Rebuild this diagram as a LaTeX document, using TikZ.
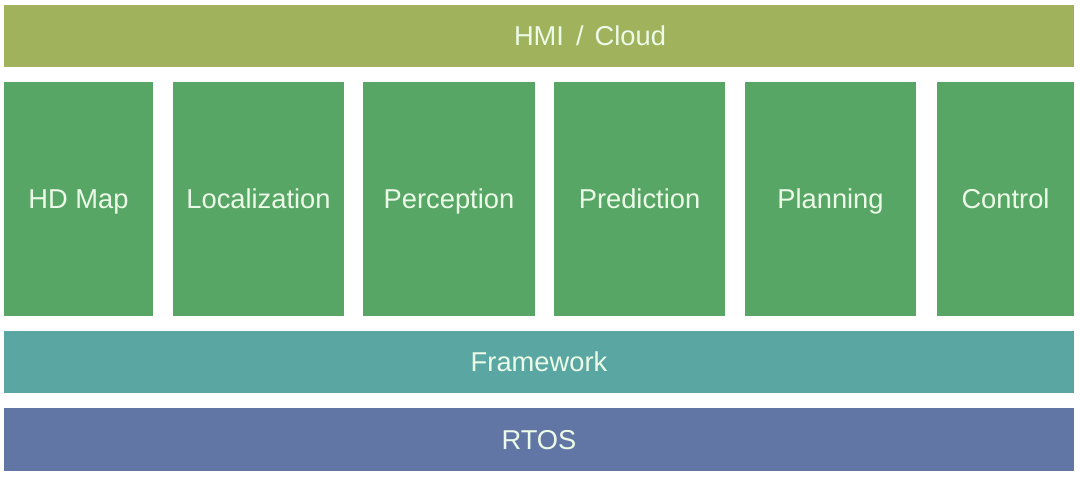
\documentclass[tikz,border=0pt]{standalone}
\usepackage{fontspec}
\setmainfont{Liberation Sans}
\usepackage{tikz}
\usetikzlibrary{positioning}

\definecolor{hmicol}{RGB}{160,178,92}
\definecolor{modcol}{RGB}{88,166,102}
\definecolor{fwcol}{RGB}{90,166,162}
\definecolor{rtoscol}{RGB}{98,118,166}
\definecolor{txtcol}{RGB}{236,250,232}

\begin{document}
\begin{tikzpicture}[x=1pt,y=-1pt,
		label/.style={text=txtcol, font=\fontsize{27.3}{31}\selectfont,
			text height=19.5pt, text depth=0pt},
		layer/.style={rectangle, label, inner sep=0pt, minimum width=1070pt, minimum height=62pt},
		module/.style={rectangle, label, fill=modcol, inner sep=0pt, minimum height=234pt}]
		%\draw[gray,step=50] (0,0) grid (1080,477);
		\useasboundingbox (0,0) rectangle (1080,477);
		\node[layer, fill=hmicol] (hmi) at (539,35.5) {};
		\node[label] (hmitext) at (590,35.5) {HMI\hspace{12pt}/\hspace{11pt}Cloud};
		\node[module, minimum width=149pt] (hdmap) at (78.5,199) {HD Map};
		\node[module, minimum width=171pt] (loc) at (258.5,199) {Localization};
		\node[module, minimum width=172pt] (perc) at (449,199) {Perception};
		\node[module, minimum width=171pt] (pred) at (639.5,199) {Prediction};
		\node[module, minimum width=171pt] (plan) at (830.5,199) {Planning};
		\node[module, minimum width=137pt] (ctrl) at (1005.5,199) {Control};
		\node[layer, fill=fwcol] (fw) at (539,362) {Framework};
		\node[layer, fill=rtoscol, minimum height=63pt] (rtos) at (539,439.5) {RTOS};
	\end{tikzpicture}
\end{document}
